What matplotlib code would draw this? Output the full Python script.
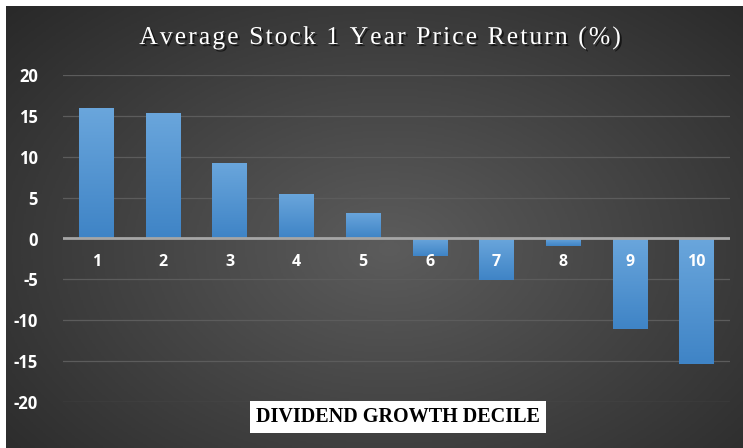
import numpy as np
import matplotlib.pyplot as plt
from matplotlib.colors import LinearSegmentedColormap
import matplotlib.patheffects as pe

deciles = ["1", "2", "3", "4", "5", "6", "7", "8", "9", "10"]
returns = [16.0, 15.4, 9.2, 5.5, 3.1, -2.1, -5.1, -0.9, -11.1, -15.4]
yticks = [-20, -15, -10, -5, 0, 5, 10, 15, 20]
title = "Average Stock 1 Year Price Return (%)"

W, H = 743, 448
fig = plt.figure(figsize=(W / 100, H / 100), dpi=100)
fig.patch.set_facecolor("white")

# dark radial background
bg = fig.add_axes([6 / W, 0, 1 - 6 / W, 1 - 6 / H])
yy, xx = np.mgrid[0:1:300j, 0:1:500j]
r = np.sqrt(((xx - 0.52) / 0.75) ** 2 + ((yy - 0.55) / 0.85) ** 2)
bg_cmap = LinearSegmentedColormap.from_list("bg", ["#5c5c5c", "#262626"])
bg.imshow(np.clip(r, 0, 1), cmap=bg_cmap, aspect="auto", extent=[0, 1, 0, 1], vmin=0, vmax=1)
bg.axis("off")

ax = fig.add_axes([63 / W, 46 / H, 667 / W, 327 / H])
ax.patch.set_alpha(0)
x = np.arange(1, len(deciles) + 1)

bars = ax.bar(x, returns, width=0.52, color="#5b9bd5", zorder=3)
grad = LinearSegmentedColormap.from_list("bar", ["#3f84c6", "#6aa6dc"])
for b in bars:
    x0, y0 = b.get_x(), b.get_y()
    w, h = b.get_width(), b.get_height()
    lo, hi = min(y0, y0 + h), max(y0, y0 + h)
    im = ax.imshow(np.linspace(0, 1, 100).reshape(-1, 1), cmap=grad, origin="lower",
                   extent=[x0, x0 + w, lo, hi], aspect="auto", zorder=3.5)
    im.set_clip_path(b)

ax.set_xlim(0.5, 10.5)
ax.set_ylim(-20, 20)
ax.set_yticks(yticks)
ax.set_yticklabels([str(t) for t in yticks])
ax.set_xticks([])
for s in ax.spines.values():
    s.set_visible(False)
ax.tick_params(axis="y", length=0, pad=18, labelcolor="white", labelsize=12)
for lbl in ax.get_yticklabels():
    lbl.set_fontweight("bold")
    lbl.set_fontfamily("Open Sans")
ax.grid(axis="y", color="#5c5c5c", linewidth=0.9, zorder=1)
ax.axhline(0, color="#a6a6a6", linewidth=2, zorder=4)

for xi, lab in zip(x, deciles):
    ax.annotate(lab, (xi, 0), xytext=(0, -23), textcoords="offset pixels",
                ha="center", va="center", color="white", fontsize=11.5,
                fontweight="bold", fontfamily="Open Sans", zorder=6)

# title with letter spacing: lay out characters one by one
renderer = fig.canvas.get_renderer()
tprops = dict(color="white", fontsize=18.5, fontfamily="Liberation Serif", va="center", ha="left",
              path_effects=[pe.withSimplePatchShadow(offset=(1.5, -1.5), shadow_rgbFace="black", alpha=0.6)])
spacing = 2.0
widths = []
for ch in title:
    t = fig.text(0, 0, ch.replace(" ", "n"), **tprops)
    wpx = t.get_window_extent(renderer).width
    widths.append(wpx * (0.5 if ch == " " else 1.0))
    t.remove()
total = sum(widths) + spacing * (len(title) - 1)
xpos = 380 - total / 2
for ch, wpx in zip(title, widths):
    if ch != " ":
        fig.text(xpos / W, 1 - 38 / H, ch, **tprops)
    xpos += wpx + spacing

fig.text(398 / W, 1 - 417 / H, "DIVIDEND GROWTH DECILE", ha="center", va="center",
         color="black", fontsize=14.5, fontweight="bold", fontfamily="Liberation Serif",
         bbox=dict(facecolor="white", edgecolor="none", boxstyle="square,pad=0.3"))

fig.savefig("out.png", dpi=100)
